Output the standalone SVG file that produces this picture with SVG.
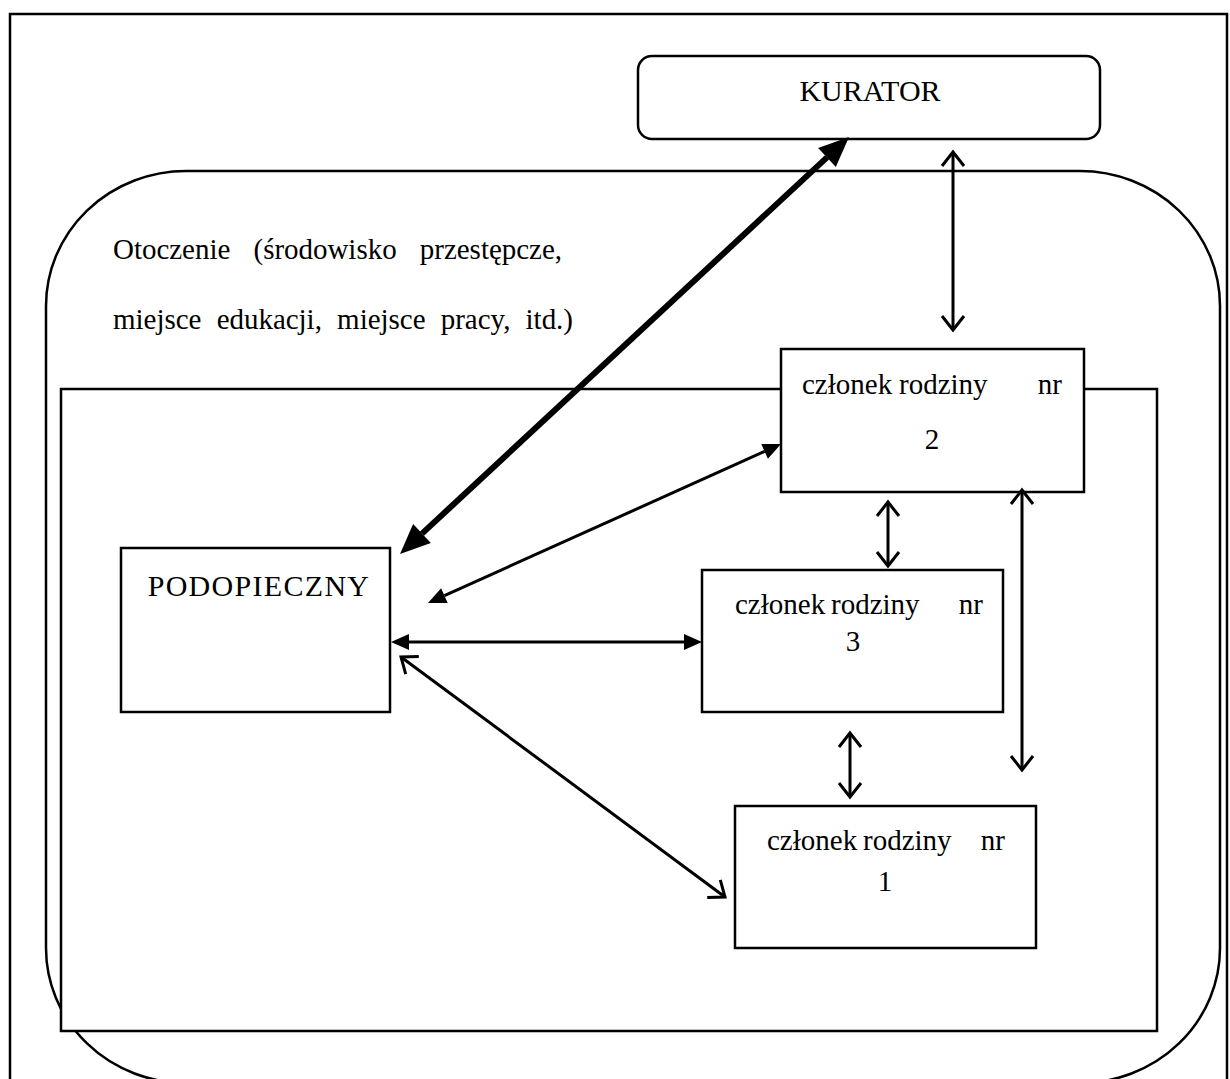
<svg xmlns="http://www.w3.org/2000/svg" width="1230" height="1079" viewBox="0 0 1230 1079">
<style>
  .box { fill: #fff; stroke: #000; stroke-width: 2.5; }
  .frame { fill: none; stroke: #000; stroke-width: 2.5; }
  .t { font-family: "Liberation Serif", "Times New Roman", serif; font-size: 29px; fill: #000; }
  .cap { font-size: 30px; }
  .thick { stroke: #000; stroke-width: 6; fill: none; marker-start: url(#bigHead); marker-end: url(#bigHead); }
  .filled { stroke: #000; stroke-width: 3; fill: none; marker-start: url(#fillHead); marker-end: url(#fillHead); }
  .open { stroke: #000; stroke-width: 3; fill: none; marker-start: url(#openHead); marker-end: url(#openHead); }
</style>
<defs>
  <marker id="bigHead" markerUnits="userSpaceOnUse" markerWidth="40" markerHeight="40" refX="0" refY="0" orient="auto-start-reverse" overflow="visible">
    <path d="M0,-13 L30,0 L0,13 z" fill="#000"/>
  </marker>
  <marker id="fillHead" markerUnits="userSpaceOnUse" markerWidth="30" markerHeight="30" refX="0" refY="0" orient="auto-start-reverse" overflow="visible">
    <path d="M0,-8 L18,0 L0,8 z" fill="#000"/>
  </marker>
  <marker id="openHead" markerUnits="userSpaceOnUse" markerWidth="30" markerHeight="30" refX="0" refY="0" orient="auto-start-reverse" overflow="visible">
    <path d="M-14,-11 L0,0 L-14,11" fill="none" stroke="#000" stroke-width="3"/>
  </marker>
</defs>
<rect width="1230" height="1079" fill="#fff"/>
<rect class="frame" x="10" y="14" width="1217" height="1100"/>

<g id="otoczenie">
  <rect class="frame" x="46" y="171" width="1174" height="912" rx="140" ry="135"/>
  <text class="t" x="113" y="259" word-spacing="16" textLength="449" lengthAdjust="spacing">Otoczenie (środowisko przestępcze,</text>
  <text class="t" x="113" y="329" word-spacing="8" textLength="460" lengthAdjust="spacing">miejsce edukacji, miejsce pracy, itd.)</text>
</g>

<g id="rodzina">
  <rect class="box" x="61" y="389" width="1096" height="642"/>
</g>

<g id="kurator">
  <rect class="box" x="638" y="56" width="462" height="83" rx="14" ry="14"/>
  <text class="t cap" x="870" y="101" text-anchor="middle">KURATOR</text>
</g>

<g id="podopieczny">
  <rect class="box" x="121" y="548" width="269" height="164"/>
  <text class="t cap" x="259" y="596" text-anchor="middle" letter-spacing="1.3">PODOPIECZNY</text>
</g>

<g id="czlonek2">
  <rect class="box" x="781" y="349" width="303" height="143"/>
  <text class="t" x="802" y="394">członek</text>
  <text class="t" x="899" y="394">rodziny</text>
  <text class="t" x="1062" y="394" text-anchor="end">nr</text>
  <text class="t" x="932" y="449" text-anchor="middle">2</text>
</g>

<g id="czlonek3">
  <rect class="box" x="702" y="570" width="301" height="142"/>
  <text class="t" x="735" y="614">członek</text>
  <text class="t" x="831" y="614">rodziny</text>
  <text class="t" x="983" y="614" text-anchor="end">nr</text>
  <text class="t" x="853" y="651" text-anchor="middle">3</text>
</g>

<g id="czlonek1">
  <rect class="box" x="735" y="806" width="301" height="142"/>
  <text class="t" x="767" y="850">członek</text>
  <text class="t" x="863" y="850">rodziny</text>
  <text class="t" x="1005" y="850" text-anchor="end">nr</text>
  <text class="t" x="885" y="891" text-anchor="middle">1</text>
</g>

<g id="connectors">
  <line class="thick" x1="827" y1="157.4" x2="422" y2="533.6"/>
  <line class="filled" x1="764.6" y1="451.4" x2="444.4" y2="595.6"/>
  <line class="filled" x1="409" y1="642" x2="684" y2="642"/>
  <line class="open" x1="401" y1="657" x2="725" y2="897"/>
  <line class="open" x1="953" y1="152" x2="953" y2="330"/>
  <line class="open" x1="888" y1="502" x2="888" y2="566"/>
  <line class="open" x1="850" y1="733" x2="850" y2="797"/>
  <line class="open" x1="1022" y1="490" x2="1022" y2="770"/>
</g>
</svg>
